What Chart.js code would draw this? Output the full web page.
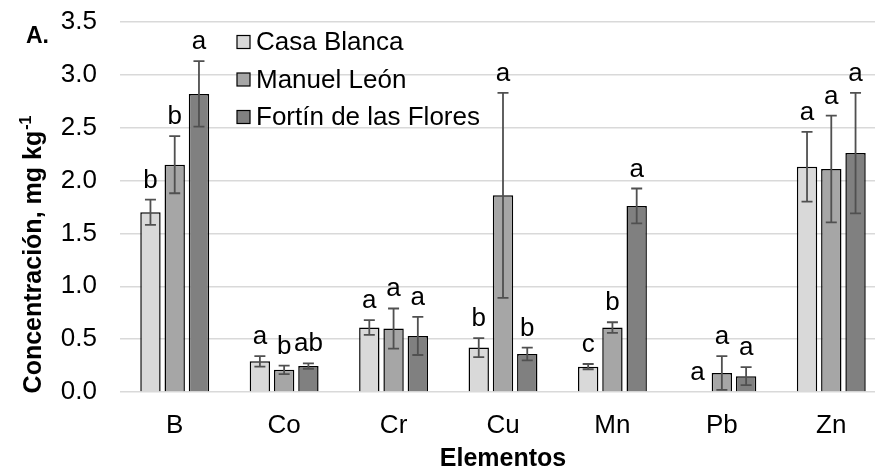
<!DOCTYPE html>
<html lang="es">
<head>
  <meta charset="UTF-8">
  <title>Concentración de elementos</title>
  <script src="https://cdn.jsdelivr.net/npm/chart.js"></script>
  <style>
    html, body {
      margin: 0;
      padding: 0;
      background: #fff;
      overflow: hidden;
    }
    .wrap {
      width: 890px;
      height: 469px;
    }
  </style>
</head>
<body>
  <div class="wrap">
    <canvas id="elementsChart" width="890" height="469"></canvas>
  </div>

  <script>
    const elements = ['B', 'Co', 'Cr', 'Cu', 'Mn', 'Pb', 'Zn'];
    const sites = ['Casa Blanca', 'Manuel León', 'Fortín de las Flores'];

    // mean concentration per site (mg kg-1)
    const casaBlanca = [1.70, 0.29, 0.61, 0.42, 0.24, 0.00, 2.13];
    const manuelLeon = [2.15, 0.21, 0.60, 1.86, 0.61, 0.18, 2.11];
    const fortin     = [2.82, 0.245, 0.53, 0.36, 1.76, 0.15, 2.26];

    // standard error
    const casaBlancaErr = [0.12, 0.05, 0.07, 0.09, 0.025, 0.00, 0.33];
    const manuelLeonErr = [0.27, 0.04, 0.19, 0.97, 0.05, 0.16, 0.505];
    const fortinErr     = [0.31, 0.025, 0.18, 0.06, 0.165, 0.085, 0.57];

    // Tukey groups
    const casaBlancaTukey = ['b', 'a', 'a', 'b', 'c', 'a', 'a'];
    const manuelLeonTukey = ['b', 'b', 'a', 'a', 'b', 'a', 'a'];
    const fortinTukey     = ['a', 'ab', 'a', 'b', 'a', 'a', 'a'];

    const yTicks = [0, 0.5, 1.0, 1.5, 2.0, 2.5, 3.0, 3.5];

    const FONT = "'Liberation Sans', Arial, sans-serif";
    const colors = ['#d9d9d9', '#a6a6a6', '#808080'];

    const errors = [casaBlancaErr, manuelLeonErr, fortinErr];
    const tukey = [casaBlancaTukey, manuelLeonTukey, fortinTukey];

    // error bars + letters above them
    const errorBarPlugin = {
      id: 'errorBars',
      afterDatasetsDraw(chart) {
        const ctx = chart.ctx;
        const y = chart.scales.y;
        ctx.save();
        chart.data.datasets.forEach((ds, i) => {
          const meta = chart.getDatasetMeta(i);
          meta.data.forEach((bar, j) => {
            const v = ds.data[j];
            const e = errors[i][j];
            const top = y.getPixelForValue(v + e);
            const bot = y.getPixelForValue(Math.max(v - e, 0));
            if (e > 0) {
              ctx.strokeStyle = '#505050';
              ctx.lineWidth = 1.8;
              ctx.beginPath();
              ctx.moveTo(bar.x, top);
              ctx.lineTo(bar.x, bot);
              ctx.moveTo(bar.x - 5.5, top);
              ctx.lineTo(bar.x + 5.5, top);
              ctx.moveTo(bar.x - 5.5, bot);
              ctx.lineTo(bar.x + 5.5, bot);
              ctx.stroke();
            }
            ctx.fillStyle = '#000';
            ctx.font = '26px ' + FONT;
            ctx.textAlign = 'center';
            ctx.textBaseline = 'alphabetic';
            ctx.fillText(tukey[i][j], bar.x, top - 12);
          });
        });
        ctx.restore();
      }
    };

    // legend in the upper left of the plot, y title with superscript, panel letter
    const decorPlugin = {
      id: 'decor',
      afterDraw(chart) {
        const ctx = chart.ctx;
        ctx.save();

        ctx.font = '26px ' + FONT;
        ctx.textBaseline = 'middle';
        ctx.textAlign = 'left';
        chart.data.datasets.forEach((ds, i) => {
          const cy = 42 + i * 37.5;
          ctx.fillStyle = ds.backgroundColor;
          ctx.fillRect(237, cy - 6.5, 13, 13);
          ctx.strokeStyle = '#000';
          ctx.lineWidth = 1.2;
          ctx.strokeRect(237, cy - 6.5, 13, 13);
          ctx.fillStyle = '#000';
          ctx.fillText(ds.label, 256, cy + 1);
        });

        ctx.font = 'bold 23px ' + FONT;
        ctx.textBaseline = 'alphabetic';
        ctx.fillText('A.', 26, 43);

        const main = 'Concentración, mg kg';
        const sup = '-1';
        ctx.font = 'bold 25px ' + FONT;
        const w1 = ctx.measureText(main).width;
        ctx.font = 'bold 16px ' + FONT;
        const w2 = ctx.measureText(sup).width;
        const total = w1 + w2;
        ctx.translate(41, 255);
        ctx.rotate(-Math.PI / 2);
        ctx.textAlign = 'left';
        ctx.font = 'bold 25px ' + FONT;
        ctx.fillText(main, -total / 2, 0);
        ctx.font = 'bold 16px ' + FONT;
        ctx.fillText(sup, -total / 2 + w1 + 1, -10);

        ctx.restore();
      }
    };

    new Chart(document.getElementById('elementsChart'), {
      type: 'bar',
      data: {
        labels: elements,
        datasets: [casaBlanca, manuelLeon, fortin].map((vals, i) => ({
          label: sites[i],
          data: vals,
          backgroundColor: colors[i],
          borderColor: '#000',
          borderWidth: 1.5,
          categoryPercentage: 0.665,
          barPercentage: 0.84
        }))
      },
      options: {
        responsive: false,
        animation: false,
        devicePixelRatio: 1,
        layout: { padding: { top: 22, right: 4, left: 0, bottom: 0 } },
        plugins: {
          legend: { display: false },
          tooltip: { enabled: false }
        },
        scales: {
          x: {
            grid: { display: false },
            border: { display: false },
            ticks: { color: '#000', font: { family: FONT, size: 26 }, padding: 10 },
            title: {
              display: true,
              text: 'Elementos',
              color: '#000',
              font: { family: FONT, size: 25, weight: 'bold', lineHeight: 1 },
              padding: { top: 4, bottom: -3 }
            },
            afterFit(scale) {
              scale.height = 77;
              scale.paddingLeft = 0;
              scale.paddingRight = 0;
            }
          },
          y: {
            min: 0,
            max: 3.5,
            afterBuildTicks(scale) {
              scale.ticks = yTicks.map(v => ({ value: v }));
            },
            grid: { color: '#d9d9d9', lineWidth: 1.5, drawTicks: false },
            border: { display: false },
            ticks: {
              color: '#000',
              font: { family: FONT, size: 26 },
              padding: 23,
              callback: v => v.toFixed(1)
            },
            afterFit(scale) {
              scale.width = 120;
              scale.paddingTop = 0;
              scale.paddingBottom = 0;
            }
          }
        }
      },
      plugins: [errorBarPlugin, decorPlugin]
    });
  </script>
</body>
</html>
